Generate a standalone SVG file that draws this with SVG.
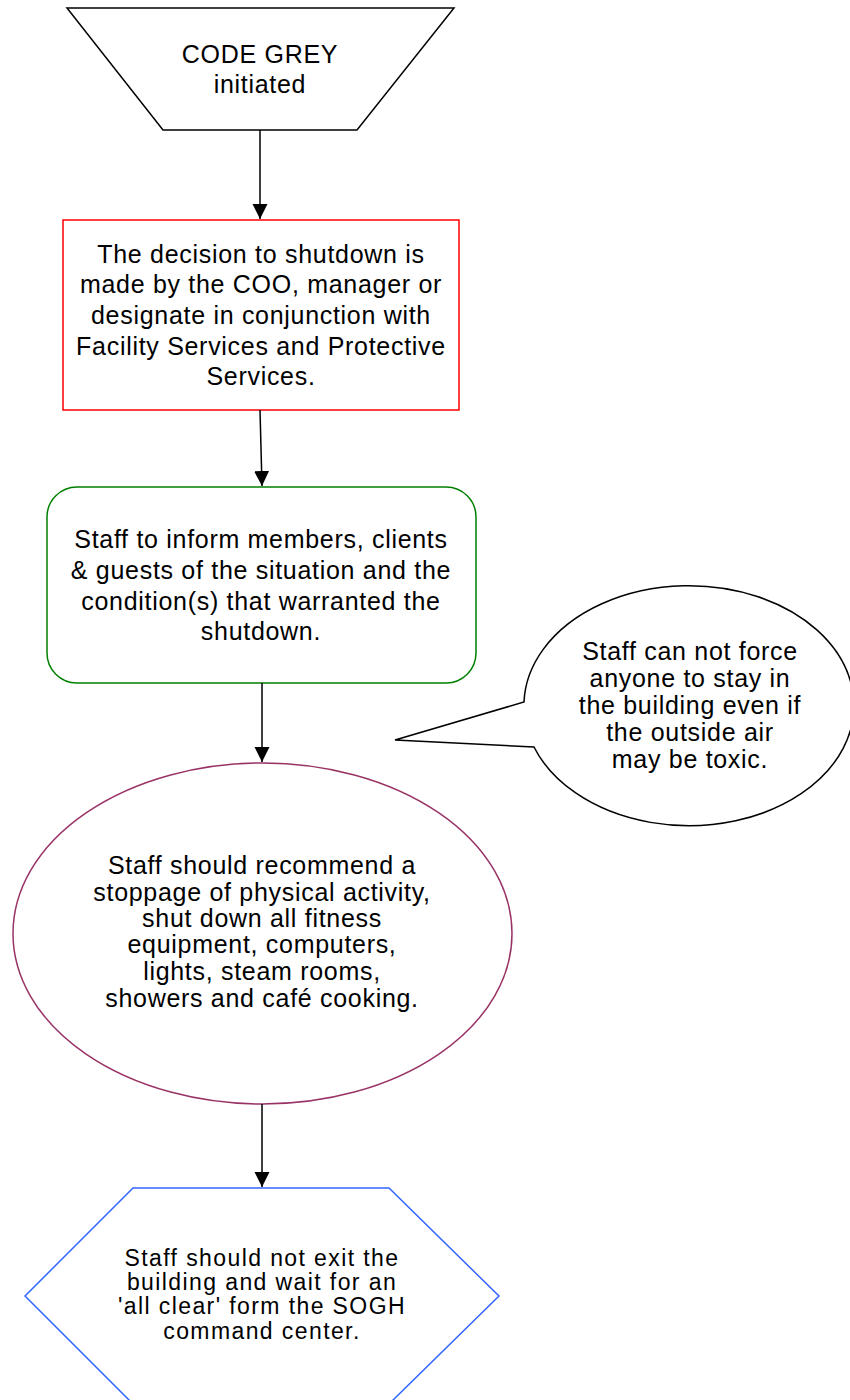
<svg xmlns="http://www.w3.org/2000/svg" width="850" height="1400" viewBox="0 0 850 1400">
  <style>
    .label { font-family: "Liberation Sans", Arial, sans-serif; font-size: 25px; letter-spacing: 0.7px; fill: #000; text-anchor: middle; }
    .tight { font-size: 23px; letter-spacing: 1.4px; }
    .node { fill: #fff; stroke-width: 1.5; }
    .edge { fill: none; stroke: #000; stroke-width: 1.5; }
  </style>
  <defs>
    <marker id="arrow" markerUnits="userSpaceOnUse" markerWidth="16" markerHeight="16" refX="15" refY="7.5" orient="auto">
      <path d="M0,0 L15,7.5 L0,15 Z" fill="#000"/>
    </marker>
  </defs>
  <rect width="850" height="1400" fill="#fff"/>

  <!-- start: manual input trapezoid -->
  <g id="start">
    <polygon class="node" stroke="#000" points="67,8 454,8 357,130 163,130"/>
    <text class="label" x="260" y="63">CODE GREY</text>
    <text class="label" x="260" y="93">initiated</text>
  </g>

  <!-- decision process box -->
  <g id="decision">
    <rect class="node" stroke="#ff0000" x="63" y="220" width="396" height="190"/>
    <text class="label" x="261" y="263">The decision to shutdown is</text>
    <text class="label" x="261" y="293">made by the COO, manager or</text>
    <text class="label" x="261" y="324">designate in conjunction with</text>
    <text class="label" x="261" y="355">Facility Services and Protective</text>
    <text class="label" x="261" y="385">Services.</text>
  </g>

  <!-- inform step -->
  <g id="inform">
    <rect class="node" stroke="#008000" x="47" y="487" width="429" height="196" rx="30" ry="30"/>
    <text class="label" x="261" y="548">Staff to inform members, clients</text>
    <text class="label" x="261" y="579">&amp; guests of the situation and the</text>
    <text class="label" x="261" y="610">condition(s) that warranted the</text>
    <text class="label" x="261" y="640">shutdown.</text>
  </g>

  <!-- callout note -->
  <g id="note">
    <path class="node" stroke="#000" d="M524,702 A165,120 0 1 1 534,747 L395,740 Z"/>
    <text class="label" x="690" y="660">Staff can not force</text>
    <text class="label" x="690" y="687">anyone to stay in</text>
    <text class="label" x="690" y="714">the building even if</text>
    <text class="label" x="690" y="741">the outside air</text>
    <text class="label" x="690" y="768">may be toxic.</text>
  </g>

  <!-- recommend shutdown ellipse -->
  <g id="recommend">
    <ellipse class="node" stroke="#993366" cx="262.5" cy="933.5" rx="249.5" ry="170.5"/>
    <text class="label" x="262" y="874">Staff should recommend a</text>
    <text class="label" x="262" y="901">stoppage of physical activity,</text>
    <text class="label" x="262" y="927">shut down all fitness</text>
    <text class="label" x="262" y="953">equipment, computers,</text>
    <text class="label" x="262" y="980">lights, steam rooms,</text>
    <text class="label" x="262" y="1007">showers and café cooking.</text>
  </g>

  <!-- wait for all clear hexagon -->
  <g id="wait">
    <polygon class="node" stroke="#3366ff" points="133,1188 389,1188 499,1296 389,1404 133,1404 25,1296"/>
    <text class="label tight" x="262" y="1266">Staff should not exit the</text>
    <text class="label tight" x="262" y="1290">building and wait for an</text>
    <text class="label tight" x="262" y="1314">'all clear' form the SOGH</text>
    <text class="label tight" x="262" y="1339">command center.</text>
  </g>

  <!-- connectors -->
  <g id="connectors">
    <line class="edge" x1="260" y1="130" x2="260" y2="219" marker-end="url(#arrow)"/>
    <line class="edge" x1="260" y1="410" x2="262" y2="486" marker-end="url(#arrow)"/>
    <line class="edge" x1="262" y1="683" x2="262" y2="762" marker-end="url(#arrow)"/>
    <line class="edge" x1="262" y1="1104" x2="262" y2="1187" marker-end="url(#arrow)"/>
  </g>
</svg>
